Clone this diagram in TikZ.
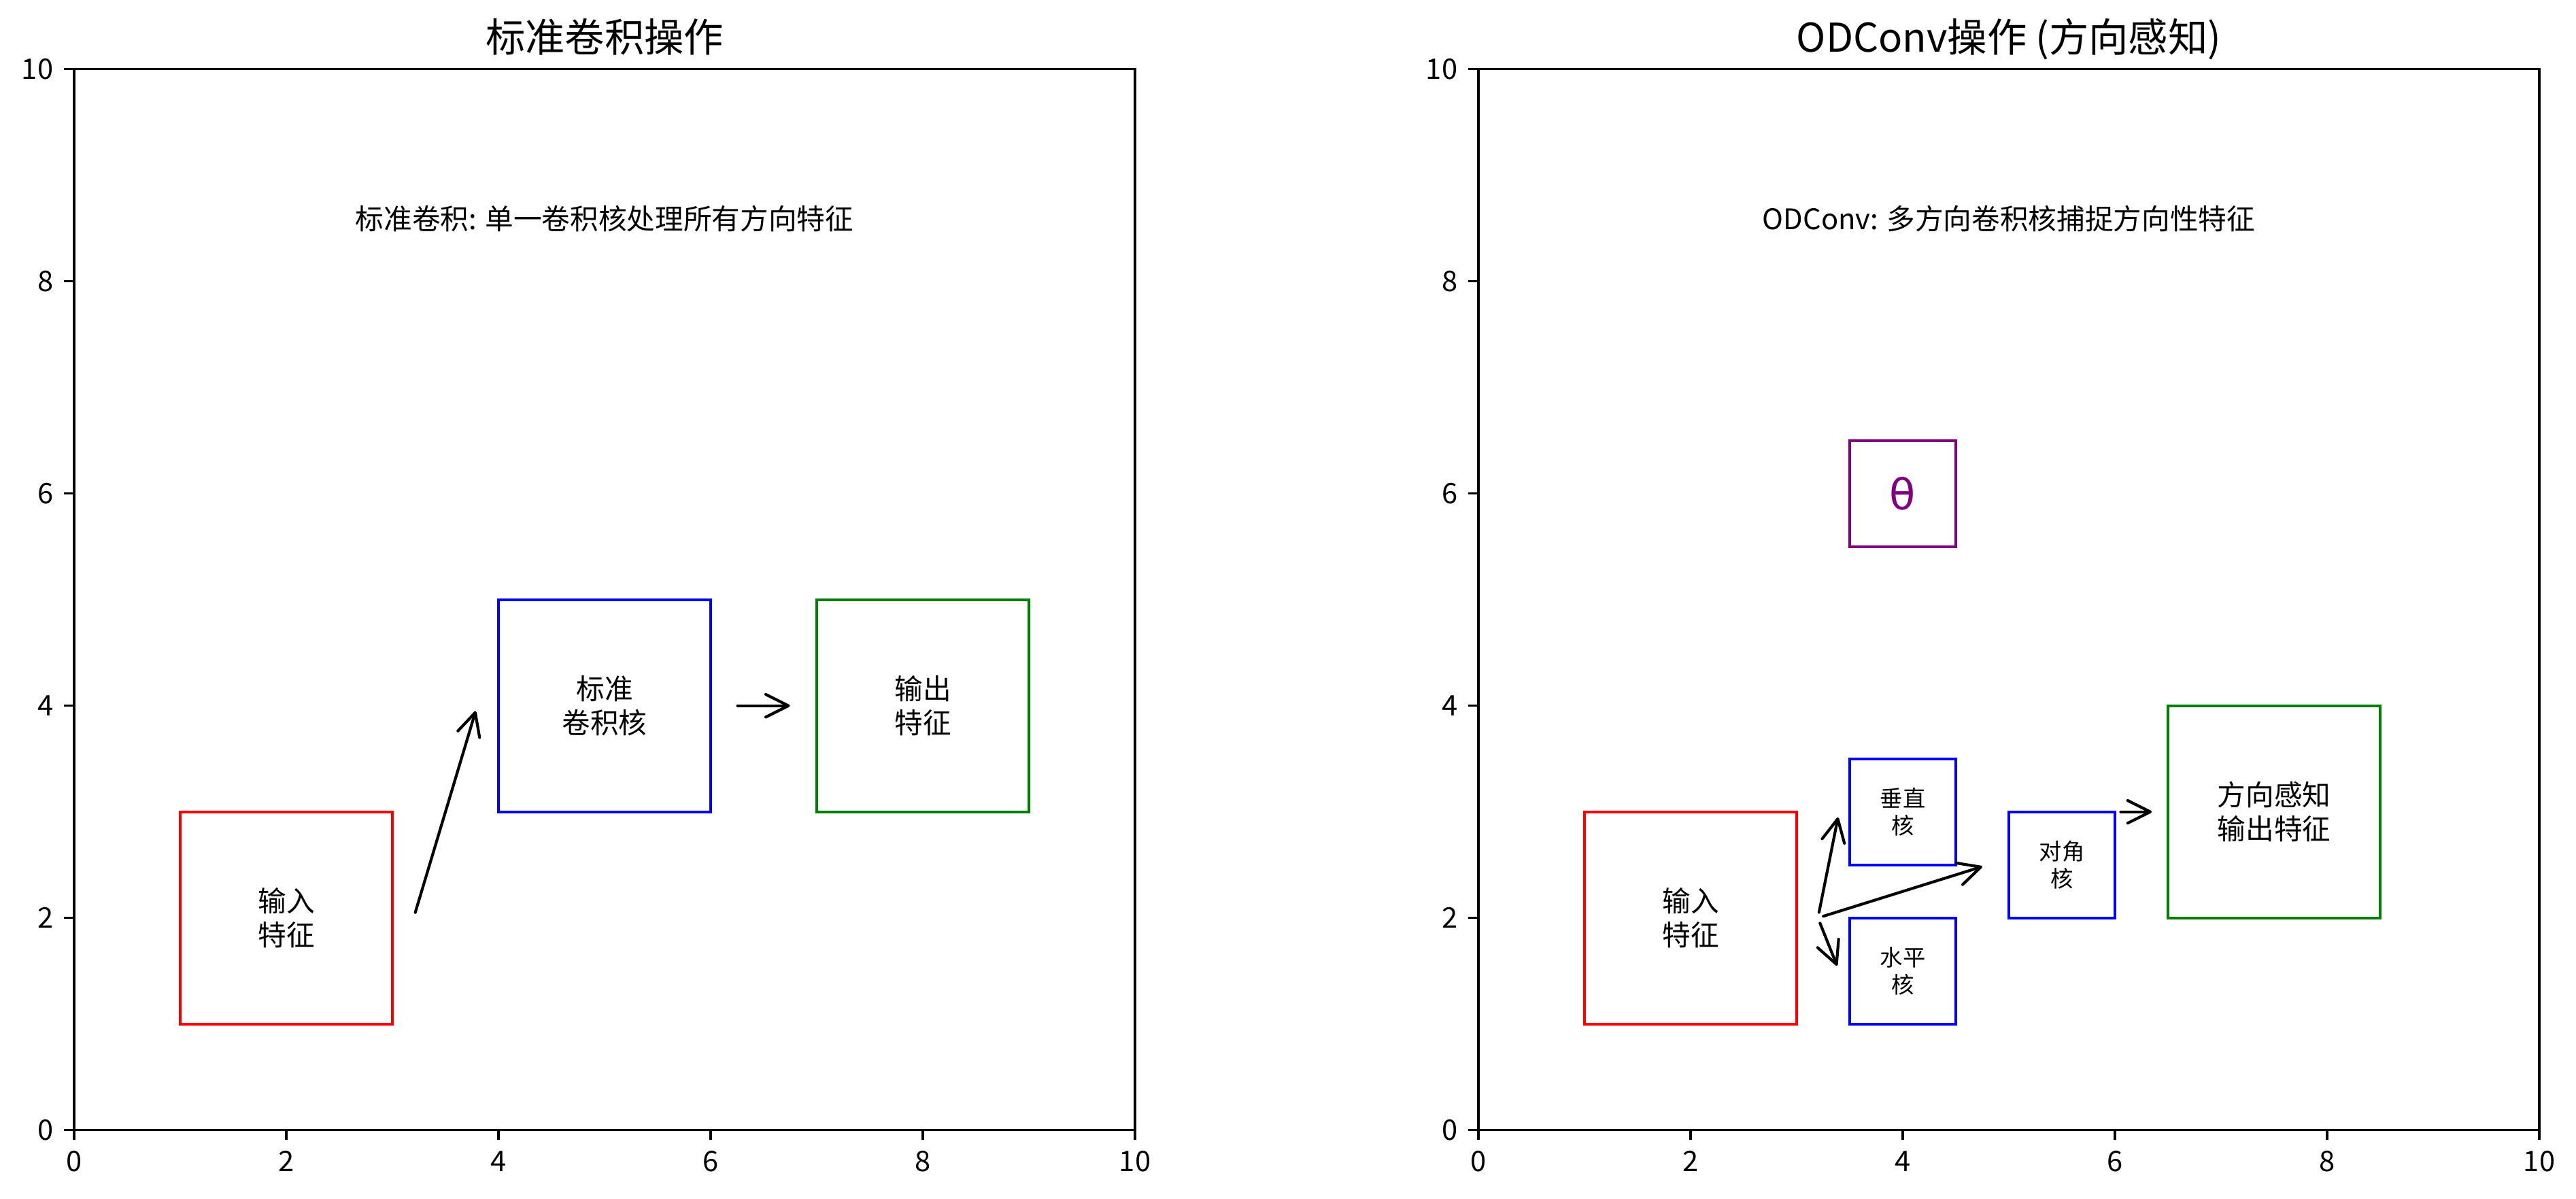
\documentclass[tikz,border=0pt]{standalone}
\usepackage{fontspec}
\setmainfont{Noto Sans CJK SC}
\newfontfamily\greekfont{DejaVu Sans}
\usetikzlibrary{arrows.meta}
\definecolor{mplgreen}{RGB}{0,128,0}
\definecolor{mplpurple}{RGB}{128,0,128}

\begin{document}
\begin{tikzpicture}[x=37.44pt,y=37.44pt,font=\fontsize{10}{12}\selectfont,
  spine/.style={line width=0.8pt},
  ticklabel/.style={inner sep=0pt},
  paneltitle/.style={anchor=base,yshift=6pt,inner sep=0pt,font=\fontsize{14}{16.8}\selectfont},
  box/.style={draw,line width=1pt,inner sep=0pt,outer sep=0pt,align=center},
  bigbox/.style={box,minimum width=74.88pt,minimum height=74.88pt},
  smallbox/.style={box,minimum width=37.44pt,minimum height=37.44pt,font=\fontsize{8}{9.6}\selectfont},
  flow/.style={line width=1pt,line cap=round,line join=round,
    -{Straight Barb[length=8pt,width=8pt,line cap=round,line join=round]},
    shorten <=2pt,shorten >=2pt}]
  \useasboundingbox (-0.699,-0.649) rectangle (23.583,10.652);

  % Left panel: standard convolution
  \draw[spine] (0,0) rectangle (10,10);
  \foreach \t in {0,2,...,10} {
    \draw[spine] (\t,0) -- ++(0,-3.5pt) node[ticklabel,below=3.5pt] (Lx\t) {\t};
    \draw[spine] (0,\t) -- ++(-3.5pt,0) node[ticklabel,left=3.5pt] (Ly\t) {\t};
  }
  \node[paneltitle] (Ltitle) at (5,10) {标准卷积操作};
  \node (Lnote) at (5,8.59) {标准卷积: 单一卷积核处理所有方向特征};
  \node[bigbox,draw=red] (Lin) at (2,2) {输入\\特征};
  \node[bigbox,draw=blue] (Lker) at (5,4) {标准\\卷积核};
  \node[bigbox,draw=mplgreen] (Lout) at (8,4) {输出\\特征};
  \coordinate (La) at (3.2,2);
  \coordinate (Lb) at (3.8,4);
  \coordinate (Lc) at (6.2,4);
  \coordinate (Ld) at (6.8,4);
  \draw[flow] (La) -- (Lb);
  \draw[flow] (Lc) -- (Ld);

  % Right panel: ODConv, direction aware
  \begin{scope}[shift={(13.237,0)}]
    \draw[spine] (0,0) rectangle (10,10);
    \foreach \t in {0,2,...,10} {
      \draw[spine] (\t,0) -- ++(0,-3.5pt) node[ticklabel,below=3.5pt] (Rx\t) {\t};
      \draw[spine] (0,\t) -- ++(-3.5pt,0) node[ticklabel,left=3.5pt] (Ry\t) {\t};
    }
    \node[paneltitle] (Rtitle) at (5,10) {ODConv操作 (方向感知)};
    \node (Rnote) at (5,8.59) {ODConv: 多方向卷积核捕捉方向性特征};
    \node[bigbox,draw=red] (Rin) at (2,2) {输入\\特征};
    \node[smallbox,draw=mplpurple,text=mplpurple,font=\greekfont\fontsize{15}{18}\selectfont] (Rtheta) at (4,6) {θ};
    \node[smallbox,draw=blue] (Rvert) at (4,3) {垂直\\核};
    \node[smallbox,draw=blue] (Rhori) at (4,1.5) {水平\\核};
    \node[smallbox,draw=blue] (Rdiag) at (5.5,2.5) {对角\\核};
    \node[bigbox,draw=mplgreen] (Rout) at (7.5,3) {方向感知\\输出特征};
    \coordinate (Ra) at (3.2,2);
    \coordinate (Rb) at (3.4,3);
    \coordinate (Rc) at (3.4,1.5);
    \coordinate (Rd) at (4.8,2.5);
    \coordinate (Re) at (6.0,3);
    \coordinate (Rf) at (6.4,3);
    \draw[flow] (Ra) -- (Rb);
    \draw[flow] (Ra) -- (Rc);
    \draw[flow] (Ra) -- (Rd);
    \draw[flow] (Re) -- (Rf);
  \end{scope}
\end{tikzpicture}
\end{document}
